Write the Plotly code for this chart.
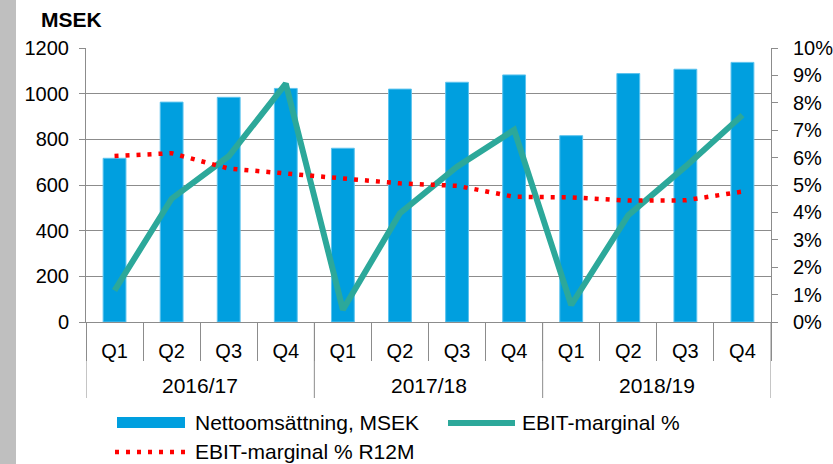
import plotly.graph_objects as go

# data
years = ["2016/17", "2017/18", "2018/19"]
quarters = ["Q1", "Q2", "Q3", "Q4"]
netto = [717, 963, 984, 1023, 761, 1020, 1050, 1082, 816, 1088, 1107, 1137]
ebit = [1.15, 4.5, 6.05, 8.7, 0.45, 3.97, 5.67, 7.01, 0.62, 3.9, 5.67, 7.55]
ebit_r12m = [6.06, 6.16, 5.6, 5.43, 5.24, 5.06, 4.97, 4.57, 4.55, 4.43, 4.44, 4.76]

names = ["Nettoomsättning, MSEK", "EBIT-marginal %", "EBIT-marginal % R12M"]
BLUE, GREEN, RED = "#009fdf", "#2ca89a", "#ff0000"

FONT = "Liberation Sans, Arial, sans-serif"
GRID = "#8c8c8c"
W, H = 833, 464
L, R, T, B = 86, 62, 48, 142
plot_h = H - T - B
plot_w = W - L - R


def px(xp):
    return (xp - L) / plot_w


def py(yp):
    return (H - B - yp) / plot_h


labels = [q for y in years for q in quarters]
x = list(range(len(labels)))
RED_DASH = "4px,7px"

fig = go.Figure()
fig.add_trace(go.Bar(x=x, y=netto, name=names[0],
                     marker=dict(color=BLUE, line=dict(color="#5cc3ee", width=1))))
fig.add_trace(go.Scatter(x=x, y=ebit, name=names[1], yaxis="y2", mode="lines",
                         line=dict(color=GREEN, width=6)))
fig.add_trace(go.Scatter(x=x, y=ebit_r12m, name=names[2], yaxis="y2", mode="lines",
                         line=dict(color=RED, width=4.5, dash=RED_DASH)))

# dividers between the year groups + year labels under the quarters
n = len(quarters)
shapes = []
for i in range(len(years) + 1):
    xb = i * n - 0.5
    shapes.append(dict(type="line", xref="x", yref="paper", x0=xb, x1=xb,
                       y0=0, y1=py(398), line=dict(color=GRID, width=1)))
# grey strip on the left edge
shapes.append(dict(type="rect", xref="paper", yref="paper", x0=px(0), x1=px(16),
                   y0=py(H), y1=py(0), fillcolor="#bfbfbf", line_width=0, layer="below"))

annotations = [dict(x=i * n + (n - 1) / 2, y=py(385), xref="x", yref="paper", text=yr,
                    showarrow=False, font=dict(size=21), yanchor="middle")
               for i, yr in enumerate(years)]
annotations.append(dict(x=px(39), y=py(20), xref="paper", yref="paper",
                        text="<b>MSEK</b>", showarrow=False, xanchor="left", yanchor="middle",
                        font=dict(size=21)))

# legend drawn by hand (wide Excel-style swatches)
shapes.append(dict(type="rect", xref="paper", yref="paper", x0=px(117), x1=px(185),
                   y0=py(428), y1=py(417), fillcolor=BLUE, line_width=0))
shapes.append(dict(type="line", xref="paper", yref="paper", x0=px(448), x1=px(515),
                   y0=py(423), y1=py(423), line=dict(color=GREEN, width=6)))
shapes.append(dict(type="line", xref="paper", yref="paper", x0=px(115), x1=px(186),
                   y0=py(452), y1=py(452), line=dict(color=RED, width=4.5, dash=RED_DASH)))
for name, lx, ly in [(names[0], 193, 422), (names[1], 520, 422), (names[2], 193, 451)]:
    annotations.append(dict(x=px(lx), y=py(ly), xref="paper", yref="paper", text=name,
                            showarrow=False, xanchor="left", yanchor="middle",
                            font=dict(size=21)))

fig.update_layout(
    width=W, height=H,
    margin=dict(l=L, r=R, t=T, b=B, autoexpand=False),
    plot_bgcolor="white", paper_bgcolor="white",
    font=dict(family=FONT, size=20, color="black"),
    bargap=0.6,
    showlegend=False,
    xaxis=dict(range=[-0.5, len(x) - 0.5], tickvals=x, ticktext=labels,
               ticks="outside", ticklen=8, tickcolor="rgba(0,0,0,0)", ticklabelstandoff=3,
               minor=dict(tickmode="array", tickvals=[v - 0.5 for v in x] + [len(x) - 0.5],
                          ticks="outside", ticklen=38, tickcolor=GRID, tickwidth=1),
               showline=True, linecolor=GRID, linewidth=1, showgrid=False, zeroline=False),
    yaxis=dict(range=[0, 1200], dtick=200, ticks="outside", ticklen=6, tickcolor=GRID,
               showline=True, linecolor=GRID, gridcolor=GRID, gridwidth=1, zeroline=False,
               ticklabelstandoff=6),
    yaxis2=dict(range=[0, 10], dtick=1, ticksuffix="%", overlaying="y", side="right",
                ticks="outside", ticklen=6, tickcolor=GRID, showline=True, linecolor=GRID,
                showgrid=False, zeroline=False, ticklabelstandoff=11),
    shapes=shapes,
    annotations=annotations,
)

fig.write_html("out.html", config={"displayModeBar": False},
               post_script="document.body.style.margin='0px';")
